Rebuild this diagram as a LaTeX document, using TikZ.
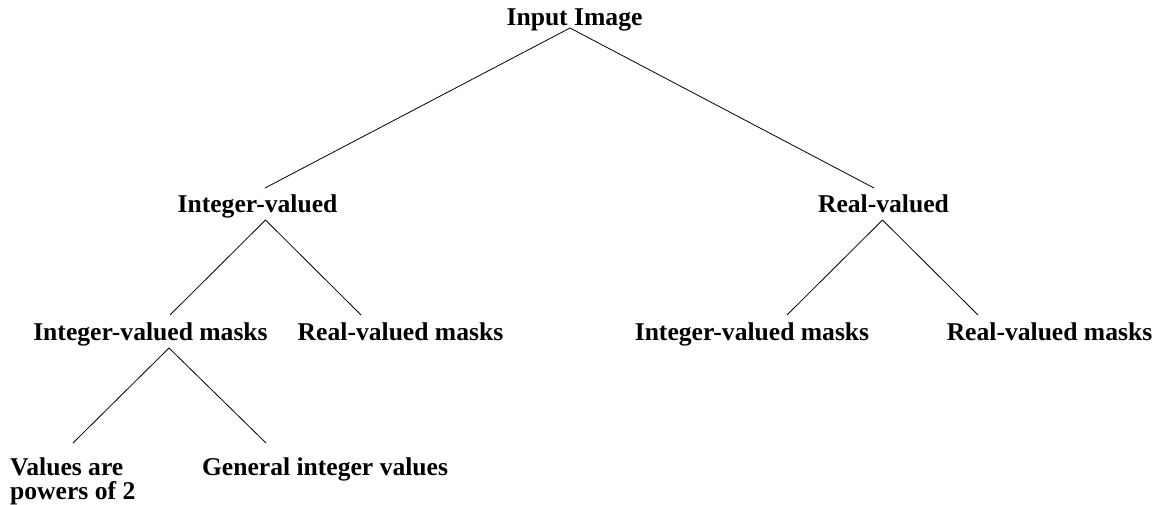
\documentclass[tikz,border=0pt]{standalone}
\usepackage{fontspec}
\setmainfont{Liberation Serif}
\usetikzlibrary{calc}

\begin{document}
\begin{tikzpicture}[x=1pt, y=-1pt,
		lbl/.style={inner sep=0pt, anchor=base, font=\fontsize{25.6}{22}\selectfont\bfseries},
		branch/.style={line width=0.8pt}]
		\useasboundingbox (0,0) rectangle (1161,505);
		
		\node[lbl] (root) at (574.5,26) {Input Image};
		\node[lbl] (iv) at (257.5,212) {Integer-valued};
		\node[lbl] (rv) at (883.5,212) {Real-valued};
		\node[lbl] (ivmL) at (150.5,340.5) {Integer-valued masks};
		\node[lbl] (rvmL) at (400.5,340.5) {Real-valued masks};
		\node[lbl] (ivmR) at (752,340.5) {Integer-valued masks};
		\node[lbl] (rvmR) at (1049.5,340.5) {Real-valued masks};
		\node[lbl, anchor=north west, align=left,
			font=\fontsize{25.6}{24}\selectfont\bfseries] (pow) at (10,457.8) {Values are\\powers of 2};
		\node[lbl] (gen) at (325,475.5) {General integer values};
		
		\draw[branch] ($(root.base)+(-4.5,2)$) -- ($(iv.base)+(7.5,-24)$);
		\draw[branch] ($(root.base)+(-4.5,2)$) -- ($(rv.base)+(-9.5,-24)$);
		
		\draw[branch] ($(iv.base)+(8,8)$) -- ($(ivmL.base)+(19.5,-25.5)$);
		\draw[branch] ($(iv.base)+(8,8)$) -- ($(rvmL.base)+(-39.5,-25.5)$);
		\draw[branch] ($(rv.base)+(-1,8)$) -- ($(ivmR.base)+(35,-25.5)$);
		\draw[branch] ($(rv.base)+(-1,8)$) -- ($(rvmR.base)+(-71.5,-25.5)$);
		
		\draw[branch] ($(ivmL.base)+(18.5,7.5)$) -- ($(pow.north west)+(63,-14.8)$);
		\draw[branch] ($(ivmL.base)+(18.5,7.5)$) -- ($(gen.base)+(-59,-32.5)$);
		
	\end{tikzpicture}
\end{document}
